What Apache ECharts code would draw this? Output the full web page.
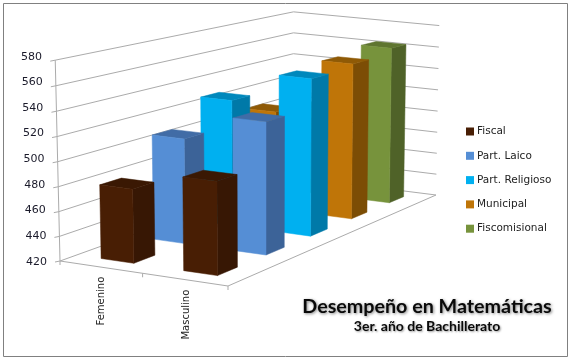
<!DOCTYPE html>
<html><head><meta charset="utf-8">
<style>html,body{margin:0;padding:0;background:#fff}#c{width:571px;height:358px}</style>
<script src="https://cdn.jsdelivr.net/npm/echarts@6/dist/echarts.min.js"></script>
</head><body><div id="c"></div>
<script>
const categories = ['Femenino', 'Masculino'];
const seriesNames = ['Fiscal', 'Part. Laico', 'Part. Religioso', 'Municipal', 'Fiscomisional'];
const fiscal = [480, 495];
const partLaico = [508, 530];
const partReligioso = [529, 555];
const municipal = [508, 558];
const fiscomisional = [500, 563];
const yTicks = [420, 440, 460, 480, 500, 520, 540, 560, 580];
const seriesValues = [fiscal, partLaico, partReligioso, municipal, fiscomisional];

const frontFace = ['#481E04', '#558ED5', '#00B0F0', '#BF7508', '#77933C'];
const sideFace  = ['#371704', '#3C6398', '#0079A8', '#7C4D05', '#4F6228'];
const topFace   = ['#3A1803', '#416CA6', '#0088BC', '#8F5A06', '#5F7530'];

// Perspective of the chart box: floor corners and wall tops, in page pixels
const floorA = [60, 261], floorB = [228, 286], floorC = [436, 195], floorD = [293, 177];
const topA = [55, 55.7], topD = [293, 17], topC = [440, 24];

function lstsq(M, r) {
  const n = M[0].length, N = [];
  for (let i = 0; i < n; i++) { N.push(new Array(n + 1).fill(0));
    for (let j = 0; j < n; j++) M.forEach(row => N[i][j] += row[i] * row[j]);
    M.forEach((row, k) => N[i][n] += row[i] * r[k]);
  }
  for (let i = 0; i < n; i++) {
    let p = i; for (let k = i + 1; k < n; k++) if (Math.abs(N[k][i]) > Math.abs(N[p][i])) p = k;
    [N[i], N[p]] = [N[p], N[i]];
    for (let k = 0; k < n; k++) if (k !== i) { const f = N[k][i] / N[i][i];
      for (let j = i; j <= n; j++) N[k][j] -= f * N[i][j]; }
  }
  return N.map((row, i) => row[n] / row[i]);
}
const H = (function () {
  const pts = [[0, 0, floorA], [1, 0, floorB], [1, 1, floorC], [0, 1, floorD]], M = [], r = [];
  pts.forEach(([u, w, [x, y]]) => {
    M.push([u, w, 1, 0, 0, 0, -u * x, -w * x]); r.push(x);
    M.push([0, 0, 0, u, w, 1, -u * y, -w * y]); r.push(y);
  });
  const h = lstsq(M, r);
  return [h[0], h[1], h[2], h[3], h[4], h[5], h[6], h[7], 1];
})();
const V = (function () {
  const pts = [[0, 0, topA], [1, 1, topC], [0, 1, topD]], M = [], r = [];
  pts.forEach(([u, w, [x, y]]) => {
    const X = H[0]*u + H[1]*w + H[2], Y = H[3]*u + H[4]*w + H[5], Z = H[6]*u + H[7]*w + H[8];
    M.push([1, 0, -x]); r.push(x * Z - X);
    M.push([0, 1, -y]); r.push(y * Z - Y);
  });
  return lstsq(M, r);
})();
function project(u, w, h) {
  const X = H[0]*u + H[1]*w + H[2] + V[0]*h, Y = H[3]*u + H[4]*w + H[5] + V[1]*h, Z = H[6]*u + H[7]*w + H[8] + V[2]*h;
  return [X / Z, Y / Z];
}

const BAR_SHARE = 0.4; // Excel gap width / gap depth of 150 %

function heightOf(api, v) {
  const base = api.coord([0, yTicks[0]])[1], top = api.coord([0, yTicks[yTicks.length - 1]])[1];
  return (base - api.coord([0, v])[1]) / (base - top);
}

function barRenderer(si) {
  return function (params, api) {
    const cat = api.value(0), val = api.value(1), g = params.coordSys;
    const cx = api.coord([cat, val])[0], half = api.size([1, 0])[0] * BAR_SHARE / 2;
    const u0 = (cx - half - g.x) / g.width, u1 = (cx + half - g.x) / g.width;
    const w0 = (si + 0.5 - BAR_SHARE / 2) / seriesNames.length, w1 = (si + 0.5 + BAR_SHARE / 2) / seriesNames.length;
    const h = heightOf(api, val);
    const poly = (pts, color) => ({ type: 'polygon', shape: { points: pts }, style: { fill: color, stroke: color, lineWidth: 0.5 } });
    return { type: 'group', children: [
      poly([project(u1, w0, 0), project(u1, w1, 0), project(u1, w1, h), project(u1, w0, h)], sideFace[si]),
      poly([project(u0, w0, h), project(u1, w0, h), project(u1, w1, h), project(u0, w1, h)], topFace[si]),
      poly([project(u0, w0, 0), project(u1, w0, 0), project(u1, w0, h), project(u0, w0, h)], frontFace[si])
    ] };
  };
}

function gridRenderer(params, api) {
  const h = heightOf(api, api.value(0));
  return { type: 'group', children: [
    { type: 'polyline', shape: { points: [[project(0, 0, h)[0] - 5, project(0, 0, h)[1] + 1], project(0, 0, h), project(0, 1, h), project(1, 1, h)] },
      style: { fill: 'none', stroke: '#ABABAB', lineWidth: 1 } }
  ] };
}

function frameRenderer(params, api) {
  const line = (a, b) => ({ type: 'line', shape: { x1: a[0], y1: a[1], x2: b[0], y2: b[1] }, style: { stroke: '#ABABAB', lineWidth: 1 } });
  const kids = [
    line(project(0, 0, 0), project(0, 0, 1)),
    line(project(0, 0, 0), project(1, 0, 0)),
    line(project(1, 0, 0), project(1, 1, 0))
  ];
  categories.concat('').forEach((c, i) => {
    const p = project(i / categories.length, 0, 0);
    kids.push(line(p, [p[0], p[1] + 4]));
  });
  return { type: 'group', children: kids };
}

const yRich = {}; yTicks.forEach((t, i) => { yRich['t' + t] = { padding: [2, (i * 5) / (yTicks.length - 1), 0, 0], fontFamily: 'DejaVu Sans', fontSize: 11, color: '#1a1a2a' }; });
const xRich = { c0: { padding: [0, 0, 2, 0], fontFamily: 'DejaVu Sans', fontSize: 10, color: '#222' }, c1: { padding: [0, 13, 0, 0], fontFamily: 'DejaVu Sans', fontSize: 10, color: '#222' } };

const series = [
  { type: 'custom', name: 'walls', coordinateSystem: 'cartesian2d', data: yTicks.map(t => [t]), encode: { y: 0 }, renderItem: gridRenderer, silent: true, z: 1, legendHoverLink: false },
  { type: 'custom', name: 'frame', coordinateSystem: 'cartesian2d', data: [[0, 420]], renderItem: frameRenderer, silent: true, z: 1 }
];
seriesNames.forEach((name, si) => {
  series.push({
    type: 'custom', name, coordinateSystem: 'cartesian2d',
    itemStyle: { color: frontFace[si] },
    data: seriesValues[si].map((v, i) => [i, v]),
    encode: { x: 0, y: 1 },
    renderItem: barRenderer(si),
    clip: false,
    z: 10 + (seriesNames.length - si)
  });
});

const chart = echarts.init(document.getElementById('c'), null, { renderer: 'canvas' });
chart.setOption({
  animation: false,
  backgroundColor: '#fff',
  grid: { left: 60, top: 55.7, width: 168, height: 205, containLabel: false },
  xAxis: {
    type: 'category', data: categories,
    axisLine: { show: false }, axisTick: { show: false }, splitLine: { show: false },
    axisLabel: { rotate: 90, margin: 16, interval: 0, formatter: (v, i) => `{c${i}|${v}}`, rich: xRich }
  },
  yAxis: {
    type: 'value', min: 420, max: 580, interval: 20,
    axisLine: { show: false }, axisTick: { show: false }, splitLine: { show: false },
    axisLabel: { margin: 13, formatter: v => `{t${v}|${v}}`, rich: yRich }
  },
  legend: {
    data: seriesNames, orient: 'vertical', left: 461, top: 121, itemWidth: 8, itemHeight: 8, itemGap: 13.3,
    icon: 'rect', textStyle: { fontFamily: 'DejaVu Sans', fontSize: 10.5, color: '#222', padding: [0, 0, 0, -2] }, selectedMode: false
  },
  title: {
    text: 'Desempeño en Matemáticas', subtext: '3er. año de Bachillerato',
    left: 422, top: 292, textAlign: 'center', itemGap: 2,
    textStyle: { fontFamily: 'Lato', fontWeight: 'bold', fontSize: 19.7, color: '#0a0a0a', textShadowColor: 'rgba(0,0,0,0.5)', textShadowBlur: 3, textShadowOffsetX: 1, textShadowOffsetY: 1 },
    subtextStyle: { fontFamily: 'Lato', fontWeight: 'bold', fontSize: 14, color: '#0a0a0a', textShadowColor: 'rgba(0,0,0,0.4)', textShadowBlur: 2, textShadowOffsetX: 1, textShadowOffsetY: 1 }
  },
  graphic: [{ type: 'rect', silent: true, z: -1, shape: { x: 3.5, y: 3.5, width: 564, height: 353 }, style: { fill: '#fff', stroke: '#808080', lineWidth: 1 } }],
  series
});
</script></body></html>
